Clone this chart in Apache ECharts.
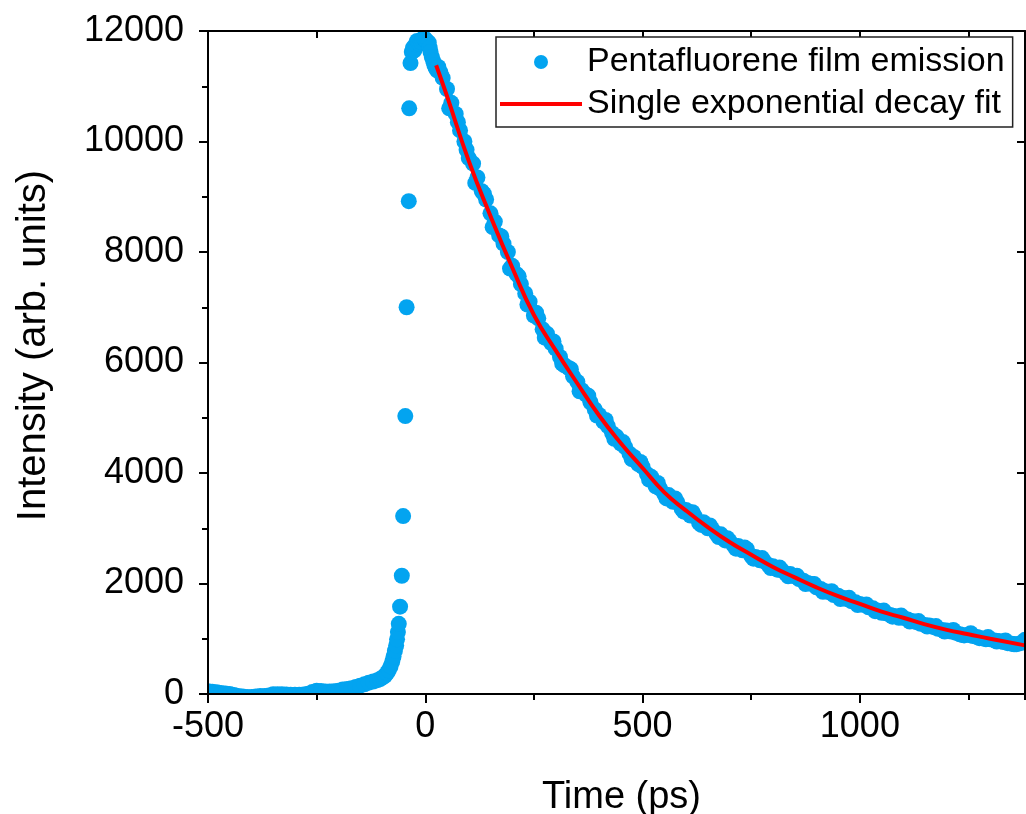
<!DOCTYPE html>
<html>
<head>
<meta charset="utf-8">
<script src="https://cdn.jsdelivr.net/npm/echarts@6/dist/echarts.min.js"></script>
<style>
  html, body { margin: 0; padding: 0; background: #fff; }
  #chart { width: 1026px; height: 814px; }
</style>
</head>
<body>
<div id="chart"></div>
<script>
// ---- Data (time in ps, intensity in arb. units) ----
const seriesNames = ['Pentafluorene film emission', 'Single exponential decay fit'];
const xTickLabels = ['-500', '0', '500', '1000'];
const yTickLabels = ['0', '2000', '4000', '6000', '8000', '10000', '12000'];

const baselinePoints = [
  [-500, 50], [-490, 40], [-480, 30], [-470, 20], [-460, 10], [-450, 0], [-440, -20], [-430, -35],
  [-420, -45], [-410, -55], [-400, -55], [-390, -45], [-380, -35], [-370, -35], [-360, -25], [-350, -5],
  [-340, -5], [-330, -5], [-320, -10], [-310, -15], [-300, -15], [-290, -15], [-280, -10], [-270, 5],
  [-260, 35], [-250, 60], [-240, 55], [-230, 45], [-220, 45], [-210, 50], [-200, 60], [-190, 80],
  [-180, 90], [-170, 105], [-160, 125], [-150, 150], [-140, 175], [-130, 205], [-120, 225], [-110, 250],
  [-104, 270], [-98, 300], [-93, 330], [-88, 380], [-84, 430], [-80, 500], [-76, 590], [-73, 680],
  [-70, 780], [-67, 880], [-65, 990], [-63, 1120]
];
const risePoints = [
  [-61, 1270], [-58, 1580], [-54, 2140], [-51, 3220], [-46, 5030], [-43, 7000], [-38, 8920],
  [-37, 10600], [-34, 11420]
];
const peakPoints = [
  [-31, 11620], [-28, 11700], [-25, 11650], [-22, 11760], [-19, 11820], [-16, 11790], [-13, 11770],
  [-10, 11800], [-7, 11850], [-4, 11870], [-1, 11860], [2, 11830], [5, 11800], [8, 11790],
  [10, 11700], [12, 11620], [15, 11530], [18, 11460], [21, 11380], [24, 11330], [27, 11290]
];
const decayPoints = [
  [30, 11350], [40, 11150], [50, 10950], [60, 10700], [70, 10500], [80, 10200], [90, 10000], [100, 9700],
  [110, 9600], [120, 9350], [130, 9100], [140, 8950], [150, 8700], [160, 8550], [170, 8300], [180, 8150],
  [190, 8000], [200, 7750], [210, 7600], [220, 7420], [230, 7250], [240, 7100], [250, 6850], [260, 6800],
  [270, 6600], [280, 6520], [290, 6350], [300, 6250], [310, 6100], [320, 5950], [330, 5900], [340, 5750],
  [350, 5650], [360, 5500], [370, 5420], [380, 5280], [390, 5150], [400, 5050], [410, 4930], [420, 4850],
  [430, 4720], [440, 4660], [450, 4530], [460, 4470], [470, 4350], [480, 4290], [490, 4160], [500, 4110],
  [510, 3980], [520, 3930], [530, 3760], [540, 3720], [550, 3620], [560, 3600], [570, 3480], [580, 3470],
  [590, 3350], [600, 3330], [610, 3230], [620, 3220], [630, 3100], [640, 3110], [650, 3000], [660, 2990],
  [670, 2900], [680, 2890], [690, 2780], [700, 2770], [710, 2690], [720, 2680], [730, 2600], [740, 2620],
  [750, 2500], [760, 2480], [770, 2420], [780, 2400], [790, 2330], [800, 2310], [810, 2250], [820, 2240],
  [830, 2180], [840, 2170], [850, 2130], [860, 2080], [870, 2050], [880, 2010], [890, 1990], [900, 1930],
  [910, 1900], [920, 1860], [930, 1840], [940, 1790], [950, 1780], [960, 1740], [970, 1720], [980, 1680],
  [990, 1660], [1000, 1630], [1010, 1610], [1020, 1570], [1030, 1550], [1040, 1510], [1050, 1470], [1060, 1460],
  [1070, 1430], [1080, 1410], [1090, 1380], [1100, 1380], [1110, 1350], [1120, 1320], [1130, 1300], [1140, 1270],
  [1150, 1250], [1160, 1240], [1170, 1210], [1180, 1180], [1190, 1160], [1200, 1150], [1210, 1130], [1220, 1110],
  [1230, 1080], [1240, 1060], [1250, 1070], [1260, 1050], [1270, 1030], [1280, 1010], [1290, 990], [1300, 990],
  [1310, 970], [1320, 960], [1330, 940], [1340, 920], [1350, 910], [1360, 900], [1370, 920], [1380, 980]
];
const decayMidPoints = [
  [35, 11250], [55, 10600], [75, 10350], [95, 9850], [115, 9250], [135, 9050], [155, 8450], [175, 8280],
  [195, 7700], [215, 7560], [235, 7050], [255, 6900], [275, 6450], [295, 6380], [315, 5980], [335, 5880],
  [355, 5480], [375, 5400], [395, 5040], [415, 4960], [435, 4620], [455, 4560], [475, 4250], [495, 4200],
  [515, 3880], [535, 3820], [555, 3540], [575, 3540], [595, 3300], [615, 3290], [635, 3060], [655, 3050],
  [675, 2840], [695, 2820], [715, 2630], [735, 2650], [755, 2450], [775, 2460], [795, 2280], [815, 2290],
  [835, 2130], [855, 2140], [875, 1990], [895, 1990], [915, 1850], [935, 1860], [955, 1720], [975, 1740],
  [995, 1610], [1015, 1620], [1035, 1500], [1055, 1510], [1075, 1400], [1095, 1420], [1115, 1310], [1135, 1320],
  [1155, 1220], [1175, 1230], [1195, 1130], [1215, 1160], [1235, 1070], [1255, 1100], [1275, 1010], [1295, 1030],
  [1315, 950], [1335, 970], [1355, 900], [1375, 940]
];

const fitTime = [25, 50, 100, 150, 200, 250, 300, 350, 400, 450, 500, 550, 600, 650, 700, 750, 800,
  850, 900, 950, 1000, 1050, 1100, 1150, 1200, 1250, 1300, 1380];
const fitIntensity = [11380, 10820, 9650, 8650, 7720, 6860, 6220, 5620, 5040, 4540, 4090, 3650, 3320,
  3020, 2750, 2520, 2300, 2110, 1930, 1770, 1630, 1490, 1380, 1260, 1160, 1080, 1000, 880];

// ---- Build ----
const emission = baselinePoints.concat(risePoints, peakPoints, decayPoints, decayMidPoints);
const fitData = fitTime.map((t, i) => [t, fitIntensity[i]]);

const FONT = 'Liberation Sans, Arial, sans-serif';
const X_MIN = -500, X_MAX = 1380;

const chart = echarts.init(document.getElementById('chart'), null, { renderer: 'canvas' });
chart.setOption({
  animation: false,
  backgroundColor: '#ffffff',
  grid: { left: 208, top: 31, width: 817, height: 663, containLabel: false, outerBoundsMode: 'none' },
  legend: {
    orient: 'vertical',
    left: 496, top: 37,
    padding: [8, 8, 6, 4],
    itemGap: 8,
    itemWidth: 82, itemHeight: 14,
    symbolKeepAspect: true,
    borderColor: '#222', borderWidth: 1.5, borderRadius: 0,
    backgroundColor: '#ffffff',
    textStyle: { fontFamily: FONT, fontSize: 34, color: '#000' },
    data: [
      { name: seriesNames[0], icon: 'circle' },
      { name: seriesNames[1], icon: 'path://M0,0H80V4H0Z' }
    ],
    z: 20
  },
  xAxis: [
    {
      type: 'value', position: 'bottom', min: X_MIN, max: X_MAX, interval: 500,
      name: 'Time (ps)', nameLocation: 'middle', nameGap: 85,
      nameTextStyle: { fontFamily: FONT, fontSize: 38, color: '#000', padding: [0, 0, 0, 10] },
      axisLine: { show: true, onZero: false, lineStyle: { color: '#000', width: 2 } },
      axisTick: { show: true, inside: false, length: 9, lineStyle: { color: '#000', width: 2 } },
      axisLabel: {
        show: true, margin: 15, fontFamily: FONT, fontSize: 36, color: '#000',
        showMaxLabel: false,
        formatter: v => { const s = String(v); return xTickLabels.indexOf(s) >= 0 ? s : ''; }
      },
      splitLine: { show: false },
      z: 10
    },
    {
      type: 'value', position: 'bottom', min: X_MIN, max: X_MAX, interval: 250,
      axisLine: { show: false, onZero: false },
      axisTick: { show: true, inside: false, length: 6, lineStyle: { color: '#000', width: 2 } },
      axisLabel: { show: false },
      splitLine: { show: false },
      z: 10
    },
    {
      type: 'value', position: 'top', min: X_MIN, max: X_MAX, interval: 250,
      axisLine: { show: true, onZero: false, lineStyle: { color: '#000', width: 2 } },
      axisTick: { show: true, inside: true, length: 7, lineStyle: { color: '#000', width: 2 } },
      axisLabel: { show: false },
      splitLine: { show: false },
      z: 10
    }
  ],
  yAxis: [
    {
      type: 'value', position: 'left', min: 0, max: 12000, interval: 2000,
      name: 'Intensity (arb. units)', nameLocation: 'middle', nameGap: 154,
      nameTextStyle: { fontFamily: FONT, fontSize: 40, color: '#000', padding: [0, 0, 0, 34] },
      axisLine: { show: true, onZero: false, lineStyle: { color: '#000', width: 2 } },
      axisTick: { show: true, inside: false, length: 9, lineStyle: { color: '#000', width: 2 } },
      minorTick: { show: true, splitNumber: 2, length: 6, lineStyle: { color: '#000', width: 2 } },
      axisLabel: {
        show: true, margin: 24, fontFamily: FONT, fontSize: 36, color: '#000',
        formatter: v => { const s = String(v); return yTickLabels.indexOf(s) >= 0 ? s : ''; }
      },
      splitLine: { show: false },
      z: 10
    },
    {
      type: 'value', position: 'right', min: 0, max: 12000, interval: 2000,
      axisLine: { show: true, onZero: false, lineStyle: { color: '#000', width: 2 } },
      axisTick: { show: true, inside: true, length: 8, lineStyle: { color: '#000', width: 2 } },
      axisLabel: { show: false },
      splitLine: { show: false },
      z: 10
    }
  ],
  graphic: [
    // mask symbols that overflow the plotting frame (frame clipping as in the original)
    { type: 'rect', z: 5, silent: true, shape: { x: 150, y: 695, width: 876, height: 14 }, style: { fill: '#fff' } },
    { type: 'rect', z: 5, silent: true, shape: { x: 185, y: 0, width: 22, height: 709 }, style: { fill: '#fff' } }
  ],
  series: [
    {
      name: seriesNames[0], type: 'scatter', xAxisIndex: 0, yAxisIndex: 0,
      data: emission, symbol: 'circle', symbolSize: 16, clip: false,
      itemStyle: { color: '#03a4f0', opacity: 1 },
      emphasis: { disabled: true }, z: 2
    },
    {
      name: seriesNames[1], type: 'line', xAxisIndex: 0, yAxisIndex: 0,
      data: fitData, smooth: true, showSymbol: false, symbol: 'none',
      lineStyle: { color: '#ff0000', width: 4 },
      itemStyle: { color: '#ff0000' },
      emphasis: { disabled: true }, z: 3
    }
  ]
});
</script>
</body>
</html>
